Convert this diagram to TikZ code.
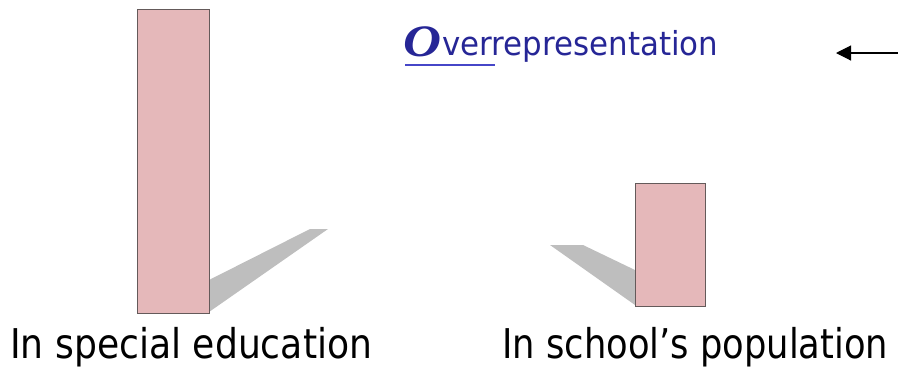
\documentclass[tikz,border=0pt]{standalone}
\usepackage{fontspec}
\usepackage{graphicx}
\setmainfont{DejaVu Sans}
\newfontfamily\serifo{Liberation Serif}
\usetikzlibrary{arrows.meta}
\definecolor{barpink}{RGB}{229,184,186}
\definecolor{barline}{RGB}{100,90,90}
\definecolor{shadowgray}{RGB}{190,190,190}
\definecolor{titleblue}{RGB}{38,38,150}
\definecolor{ulblue}{RGB}{70,70,200}
\tikzset{
  bar/.style={fill=barpink, draw=barline, line width=1pt},
  shade/.style={fill=shadowgray, draw=none},
  lbl/.style={inner sep=0pt, anchor=base west, text=black},
}
\begin{document}
\begin{tikzpicture}[x=1pt,y=-1pt]
\useasboundingbox (0,0) rectangle (898,368);
% shadows
\fill[shade] (209,312) -- (328,229) -- (310,229) -- (209,280) -- cycle;
\fill[shade] (635,305) -- (550,245) -- (583,245) -- (635,270) -- cycle;
% bars
\node[bar, minimum width=72pt, minimum height=304pt, inner sep=0pt, anchor=north west] (tall) at (137,9) {};
\node[bar, minimum width=70pt, minimum height=123pt, inner sep=0pt, anchor=north west] (short) at (635,183) {};
% labels
\node[lbl] (l1) at (10,358) {\resizebox{362pt}{\height}{\fontsize{41}{48}\selectfont In special education}};
\node[lbl] (l2) at (502,358) {\resizebox{386pt}{\height}{\fontsize{41}{48}\selectfont In school’s population}};
% title
\node[lbl, text=titleblue] (bigO) at (403,56) {\resizebox{38pt}{\height}{\fontsize{45}{50}\selectfont\serifo\bfseries\itshape O}};
\node[lbl, text=titleblue] (rest) at (442,55) {\resizebox{276pt}{\height}{\fontsize{33}{40}\selectfont verrepresentation}};
\draw[ulblue, line width=1.2pt] (bigO.base west) ++(2,9) coordinate (u1) -- (495,65) coordinate (u2);
% arrow
\coordinate (astart) at (898,53);
\coordinate (aend) at (836,53);
\draw[line width=1.1pt, -{Triangle[length=15pt,width=15pt]}] (astart) -- (aend);
\end{tikzpicture}
\end{document}
